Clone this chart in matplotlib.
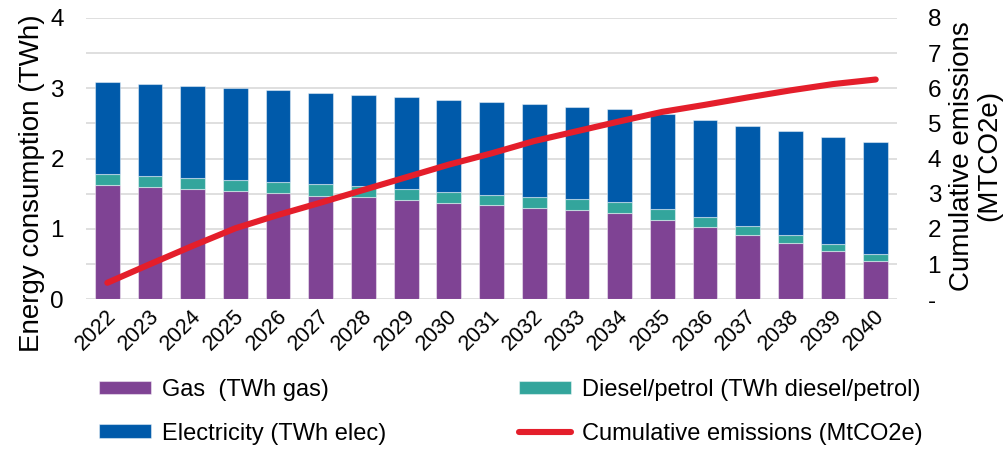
import matplotlib
matplotlib.use("Agg")
import matplotlib.pyplot as plt
import matplotlib.transforms as mtransforms
from matplotlib.ticker import FixedLocator, FuncFormatter
import numpy as np

plt.rcParams['font.family'] = ['Liberation Sans', 'DejaVu Sans']

# Annual data
years = [str(y) for y in range(2022, 2041)]
gas = [1.63, 1.59, 1.565, 1.54, 1.51, 1.475, 1.45, 1.41, 1.37, 1.34,
       1.30, 1.27, 1.23, 1.125, 1.025, 0.92, 0.80, 0.68, 0.54]
diesel_top = [1.78, 1.755, 1.73, 1.70, 1.67, 1.635, 1.61, 1.575, 1.53, 1.49,
              1.46, 1.42, 1.385, 1.28, 1.17, 1.045, 0.92, 0.785, 0.64]
total = [3.09, 3.06, 3.03, 3.00, 2.97, 2.94, 2.91, 2.88, 2.84, 2.81,
         2.78, 2.74, 2.71, 2.63, 2.55, 2.47, 2.39, 2.31, 2.23]
diesel = [round(d - g, 3) for d, g in zip(diesel_top, gas)]
electricity = [round(t - d, 3) for t, d in zip(total, diesel_top)]
cumulative = [0.47, 1.0, 1.52, 2.02, 2.40, 2.75, 3.11, 3.47, 3.83, 4.15,
              4.50, 4.78, 5.06, 5.33, 5.53, 5.74, 5.94, 6.12, 6.25]

C_GAS = '#7F4394'
C_DIESEL = '#33A59C'
C_ELEC = '#005AAA'
C_LINE = '#E41E2B'
C_GRID = '#D9D9D9'

fig = plt.figure(figsize=(10.06, 4.49), dpi=100)
ax = fig.add_axes([0.0855, 0.3334, 0.8062, 0.6266])

x = np.arange(len(years))
w = 0.58
edge = dict(edgecolor=(1, 1, 1, 0.45), linewidth=0.8)
b_gas = ax.bar(x, gas, w, color=C_GAS, label='Gas  (TWh gas)', zorder=2, **edge)
b_dsl = ax.bar(x, diesel, w, bottom=gas, color=C_DIESEL,
               label='Diesel/petrol (TWh diesel/petrol)', zorder=2, **edge)
b_elc = ax.bar(x, electricity, w, bottom=diesel_top, color=C_ELEC,
               label='Electricity (TWh elec)', zorder=2, **edge)

ax.set_xlim(-0.5, len(years) - 0.5)
ax.set_ylim(0, 4)
ax.yaxis.set_major_locator(FixedLocator([0, 1, 2, 3, 4]))
ax.yaxis.set_minor_locator(FixedLocator([0.5, 1.5, 2.5, 3.5]))
ax.grid(axis='y', which='both', color=C_GRID, linewidth=1.2, zorder=0)
ax.set_axisbelow(True)
for s in ax.spines.values():
    s.set_visible(False)
ax.tick_params(axis='y', which='both', length=0, pad=16, labelsize=17.5)
ax.tick_params(axis='x', length=0, pad=6, labelsize=15.5)
ax.set_xticks(x)
ax.set_xticklabels(years, rotation=45, ha='right', va='center',
                   rotation_mode='anchor')
offset = mtransforms.ScaledTranslation(4 / 72, -4 / 72, fig.dpi_scale_trans)
for lab in ax.get_xticklabels():
    lab.set_transform(lab.get_transform() + offset)

ax2 = ax.twinx()
ax2.set_ylim(0, 8)
ax2.yaxis.set_major_locator(FixedLocator(range(0, 9)))
ax2.yaxis.set_major_formatter(FuncFormatter(lambda v, p: '-' if v == 0 else f'{int(v)}'))
for s in ax2.spines.values():
    s.set_visible(False)
ax2.tick_params(axis='y', length=0, pad=22, labelsize=17.5)
ln, = ax2.plot(x, cumulative, color=C_LINE, linewidth=4.4,
               solid_capstyle='round', label='Cumulative emissions (MtCO2e)')

fig.text(0.032, 0.591, 'Energy consumption (TWh)', rotation=90,
         ha='center', va='center', fontsize=20)
fig.text(0.970, 0.653, 'Cumulative emissions\n(MTCO2e)', rotation=90,
         ha='center', va='center', fontsize=20, linespacing=1.05)

handles = [b_gas, b_elc, b_dsl, ln]
labels = [h.get_label() for h in handles]
fig.legend(handles, labels, ncol=2, loc='center',
           bbox_to_anchor=(0.508, 0.083), frameon=False, fontsize=17,
           handlelength=2.2, handleheight=0.5, handletextpad=0.47,
           columnspacing=5.6, labelspacing=0.92, borderpad=0)

fig.savefig('out.png', dpi=100)
